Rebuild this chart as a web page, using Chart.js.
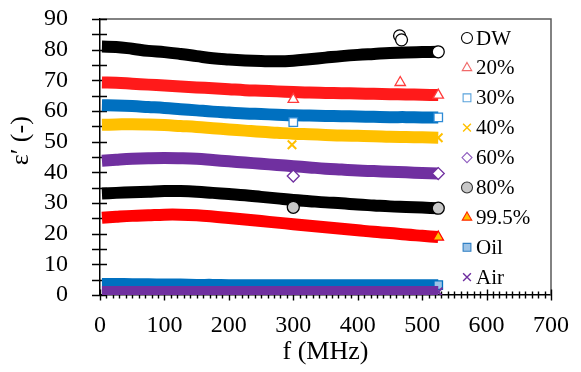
<!DOCTYPE html>
<html>
<head>
<meta charset="utf-8">
<script src="https://cdn.jsdelivr.net/npm/chart.js@4.4.1/dist/chart.umd.min.js"></script>
<style>
html,body{margin:0;padding:0;background:#fff;}
#wrap{width:581px;height:372px;}
</style>
</head>
<body>
<div id="wrap"><canvas id="c" width="581" height="372"></canvas></div>
<script>
// ---- data ----
const freqMHz = [3,25,50,75,100,125,150,175,200,225,250,275,300,325,350,375,400,425,450,475,500,525];
const seriesNames = ['DW','20%','30%','40%','60%','80%','99.5%','Oil','Air'];
const dwEps   = [81.0,80.9,80.3,79.6,79.2,78.6,77.9,77.2,76.8,76.5,76.3,76.2,76.4,76.9,77.4,77.9,78.3,78.6,78.9,79.1,79.2,79.3];
const w20Eps  = [69.3,69.2,68.9,68.6,68.3,68.0,67.7,67.4,67.1,66.8,66.6,66.4,66.2,66.0,65.9,65.8,65.7,65.6,65.5,65.4,65.3,65.2];
const w30Eps  = [61.9,61.8,61.6,61.3,61.0,60.6,60.2,59.8,59.5,59.2,59.0,58.8,58.6,58.5,58.4,58.3,58.2,58.1,58.0,58.0,57.9,57.9];
const w40Eps  = [55.5,55.6,55.7,55.6,55.4,55.1,54.8,54.4,54.0,53.6,53.2,52.9,52.6,52.4,52.2,52.0,51.9,51.8,51.6,51.5,51.4,51.3];
const w60Eps  = [43.8,44.1,44.4,44.6,44.7,44.6,44.4,44.0,43.6,43.2,42.8,42.4,42.0,41.6,41.2,40.9,40.6,40.4,40.2,40.0,39.8,39.6];
const w80Eps  = [33.1,33.3,33.5,33.7,33.9,33.9,33.7,33.3,32.9,32.5,32.0,31.5,31.0,30.6,30.2,29.9,29.5,29.2,28.9,28.7,28.5,28.3];
const w995Eps = [25.2,25.5,25.8,26.0,26.2,26.2,26.0,25.6,25.1,24.6,24.1,23.6,23.1,22.6,22.1,21.6,21.1,20.6,20.2,19.7,19.3,18.9];
const oilEps  = [3.6,3.6,3.5,3.5,3.4,3.4,3.3,3.3,3.2,3.2,3.2,3.2,3.2,3.2,3.2,3.2,3.2,3.2,3.2,3.2,3.2,3.2];
const airEps  = [1.0,1.0,1.0,1.0,1.0,1.0,1.0,1.0,1.0,1.0,1.0,1.0,1.0,1.0,1.0,1.0,1.0,1.0,1.0,1.0,1.0,1.0];

// scattered single readings lying off the bands
const dwOutF   = [465, 468];   const dwOutV   = [84.5, 83.2];
const w20OutF  = [300, 466];   const w20OutV  = [63.8, 69.3];
const w30OutF  = [300];        const w30OutV  = [56.4];
const w40OutF  = [298];        const w40OutV  = [49.0];
const w60OutF  = [300];        const w60OutV  = [38.8];
const w80OutF  = [300];        const w80OutV  = [28.6];

const xTickLabels = ['0','100','200','300','400','500','600','700'];
const yTickLabels = ['0','10','20','30','40','50','60','70','80','90'];

// ---- styles ----
const bandValues = [dwEps, w20Eps, w30Eps, w40Eps, w60Eps, w80Eps, w995Eps, oilEps, airEps];
const outF = [dwOutF, w20OutF, w30OutF, w40OutF, w60OutF, w80OutF, [], [], []];
const outV = [dwOutV, w20OutV, w30OutV, w40OutV, w60OutV, w80OutV, [], [], []];
const bandColor = ['#000000','#ff1a1a','#0070c0','#ffc000','#7030a0','#000000','#ff0000','#0070c0','#7030a0'];
const mkStyle   = ['circle','triangle','rect','crossRot','rectRot','circle','triangle','rect','crossRot'];
const mkFill    = ['#ffffff','#ffffff','#ffffff','#ffc000','#ffffff','#c8c8c8','#ffc000','#9dc3e6','#7030a0'];
const mkEdge    = ['#000000','#ff3b3b','#2e8bd6','#ffc000','#7030a0','#000000','#ff0000','#0070c0','#7030a0'];
const legEdge   = ['#000000','#f06a6a','#5aa3dc','#ffc000','#8e5cbf','#333333','#ff2a00','#2f7fc4','#7030a0'];

const lastIdx = freqMHz.length - 1;
const datasets = [];
seriesNames.forEach((name, i) => {
  datasets.push({
    label: name,
    data: freqMHz.map((f, k) => ({x: f, y: bandValues[i][k]})),
    showLine: true,
    borderColor: bandColor[i],
    borderWidth: 12,
    borderJoinStyle: 'round',
    tension: 0.4,
    pointStyle: mkStyle[i],
    pointBackgroundColor: mkFill[i],
    pointBorderColor: mkEdge[i],
    pointBorderWidth: (mkStyle[i] === 'crossRot') ? 2 : 1.3,
    pointRadius: (c) => c.dataIndex === lastIdx ? 6 : 0,
    legendEdge: legEdge[i],
    order: name === 'Air' ? -1 : 0,
    clip: {left: 8, right: 8, top: 8, bottom: 0}
  });
});
seriesNames.forEach((name, i) => {
  if (!outF[i].length) return;
  datasets.push({
    label: name + ' ',
    isOutlier: true,
    data: outF[i].map((f, k) => ({x: f, y: outV[i][k]})),
    showLine: false,
    pointStyle: mkStyle[i],
    pointBackgroundColor: mkFill[i],
    pointBorderColor: mkEdge[i],
    pointBorderWidth: (mkStyle[i] === 'crossRot') ? 2 : 1.3,
    pointRadius: 6,
    order: -2
  });
});

const serif = '"Liberation Serif", "Times New Roman", serif';

// cross-over tick marks and the grey frame (drawn beneath the bands)
const frameTicks = {
  id: 'frameTicks',
  beforeDatasetsDraw(chart) {
    const {ctx, chartArea: a, scales: {x, y}} = chart;
    ctx.save();
    ctx.strokeStyle = '#5a5a5a';
    ctx.lineWidth = 1.5;
    ctx.beginPath();
    ctx.moveTo(a.left, a.top);
    ctx.lineTo(a.right, a.top);
    ctx.lineTo(a.right, a.bottom);
    ctx.stroke();
    ctx.strokeStyle = '#000';
    ctx.lineWidth = 1.4;
    ctx.beginPath();
    y.ticks.forEach(t => {
      const py = Math.round(y.getPixelForValue(t.value)) + 0.5;
      ctx.moveTo(a.left - 8, py);
      ctx.lineTo(a.left + 7, py);
    });
    x.ticks.forEach(t => {
      const px = Math.round(x.getPixelForValue(t.value)) + 0.5;
      const h = (t.value % 100 === 0) ? 5.5 : 3.5;
      ctx.moveTo(px, a.bottom - h);
      ctx.lineTo(px, a.bottom + h);
    });
    ctx.stroke();
    ctx.restore();
  }
};

// legend drawn inside the plot area, right side
const insideLegend = {
  id: 'insideLegend',
  afterDraw(chart) {
    const {ctx, chartArea: a} = chart;
    const items = chart.data.datasets.filter(d => !d.isOutlier);
    ctx.save();
    ctx.font = '21px ' + serif;
    ctx.textAlign = 'left';
    ctx.textBaseline = 'middle';
    items.forEach((d, i) => {
      const cy = a.top + 19 + i * 29.9;
      const cx = a.right - 84;
      ctx.fillStyle = d.pointBackgroundColor;
      ctx.strokeStyle = d.legendEdge;
      ctx.lineWidth = d.pointStyle === 'crossRot' ? 1.4 : 1.1;
      Chart.helpers.drawPoint(ctx, {pointStyle: d.pointStyle, radius: d.pointStyle === 'rectRot' ? 5 : 5.5, borderWidth: 1, rotation: 0}, cx, cy);
      ctx.fillStyle = '#000';
      ctx.fillText(d.label, cx + 9, cy + 1);
    });
    ctx.restore();
  }
};

Chart.defaults.font.family = serif;
Chart.defaults.color = '#000';

new Chart(document.getElementById('c'), {
  type: 'scatter',
  data: {datasets},
  plugins: [frameTicks, insideLegend],
  options: {
    responsive: false,
    animation: false,
    events: [],
    devicePixelRatio: 1,
    layout: {padding: {left: 0, right: 30, top: 19, bottom: 0}},
    plugins: {legend: {display: false}, tooltip: {enabled: false}},
    scales: {
      x: {
        type: 'linear',
        min: 0, max: 700,
        afterFit: (s) => { s.height = 77; s.paddingLeft = 0; s.paddingRight = 0; },
        ticks: {
          stepSize: 10,
          autoSkip: false,
          maxRotation: 0,
          padding: 16,
          font: {size: 24},
          callback: (v) => (v % 100 === 0 ? xTickLabels[v / 100] : '')
        },
        grid: {drawOnChartArea: false, drawTicks: false},
        border: {color: '#000', width: 1.5},
        title: {display: true, text: 'f (MHz)', font: {size: 26}, padding: {top: 0, bottom: 4}}
      },
      y: {
        type: 'linear',
        min: 0, max: 90,
        afterFit: (s) => { s.width = 100; s.paddingTop = 0; s.paddingBottom = 0; },
        ticks: {
          stepSize: 5,
          autoSkip: false,
          padding: 32,
          font: {size: 24},
          callback: (v) => (v % 10 === 0 ? yTickLabels[v / 10] : '')
        },
        grid: {drawOnChartArea: false, drawTicks: false},
        border: {color: '#000', width: 1.5},
        title: {display: true, text: '     ε′ (-)', font: {size: 26}, padding: {top: 6, bottom: 0}}
      }
    }
  }
});
</script>
</body>
</html>
